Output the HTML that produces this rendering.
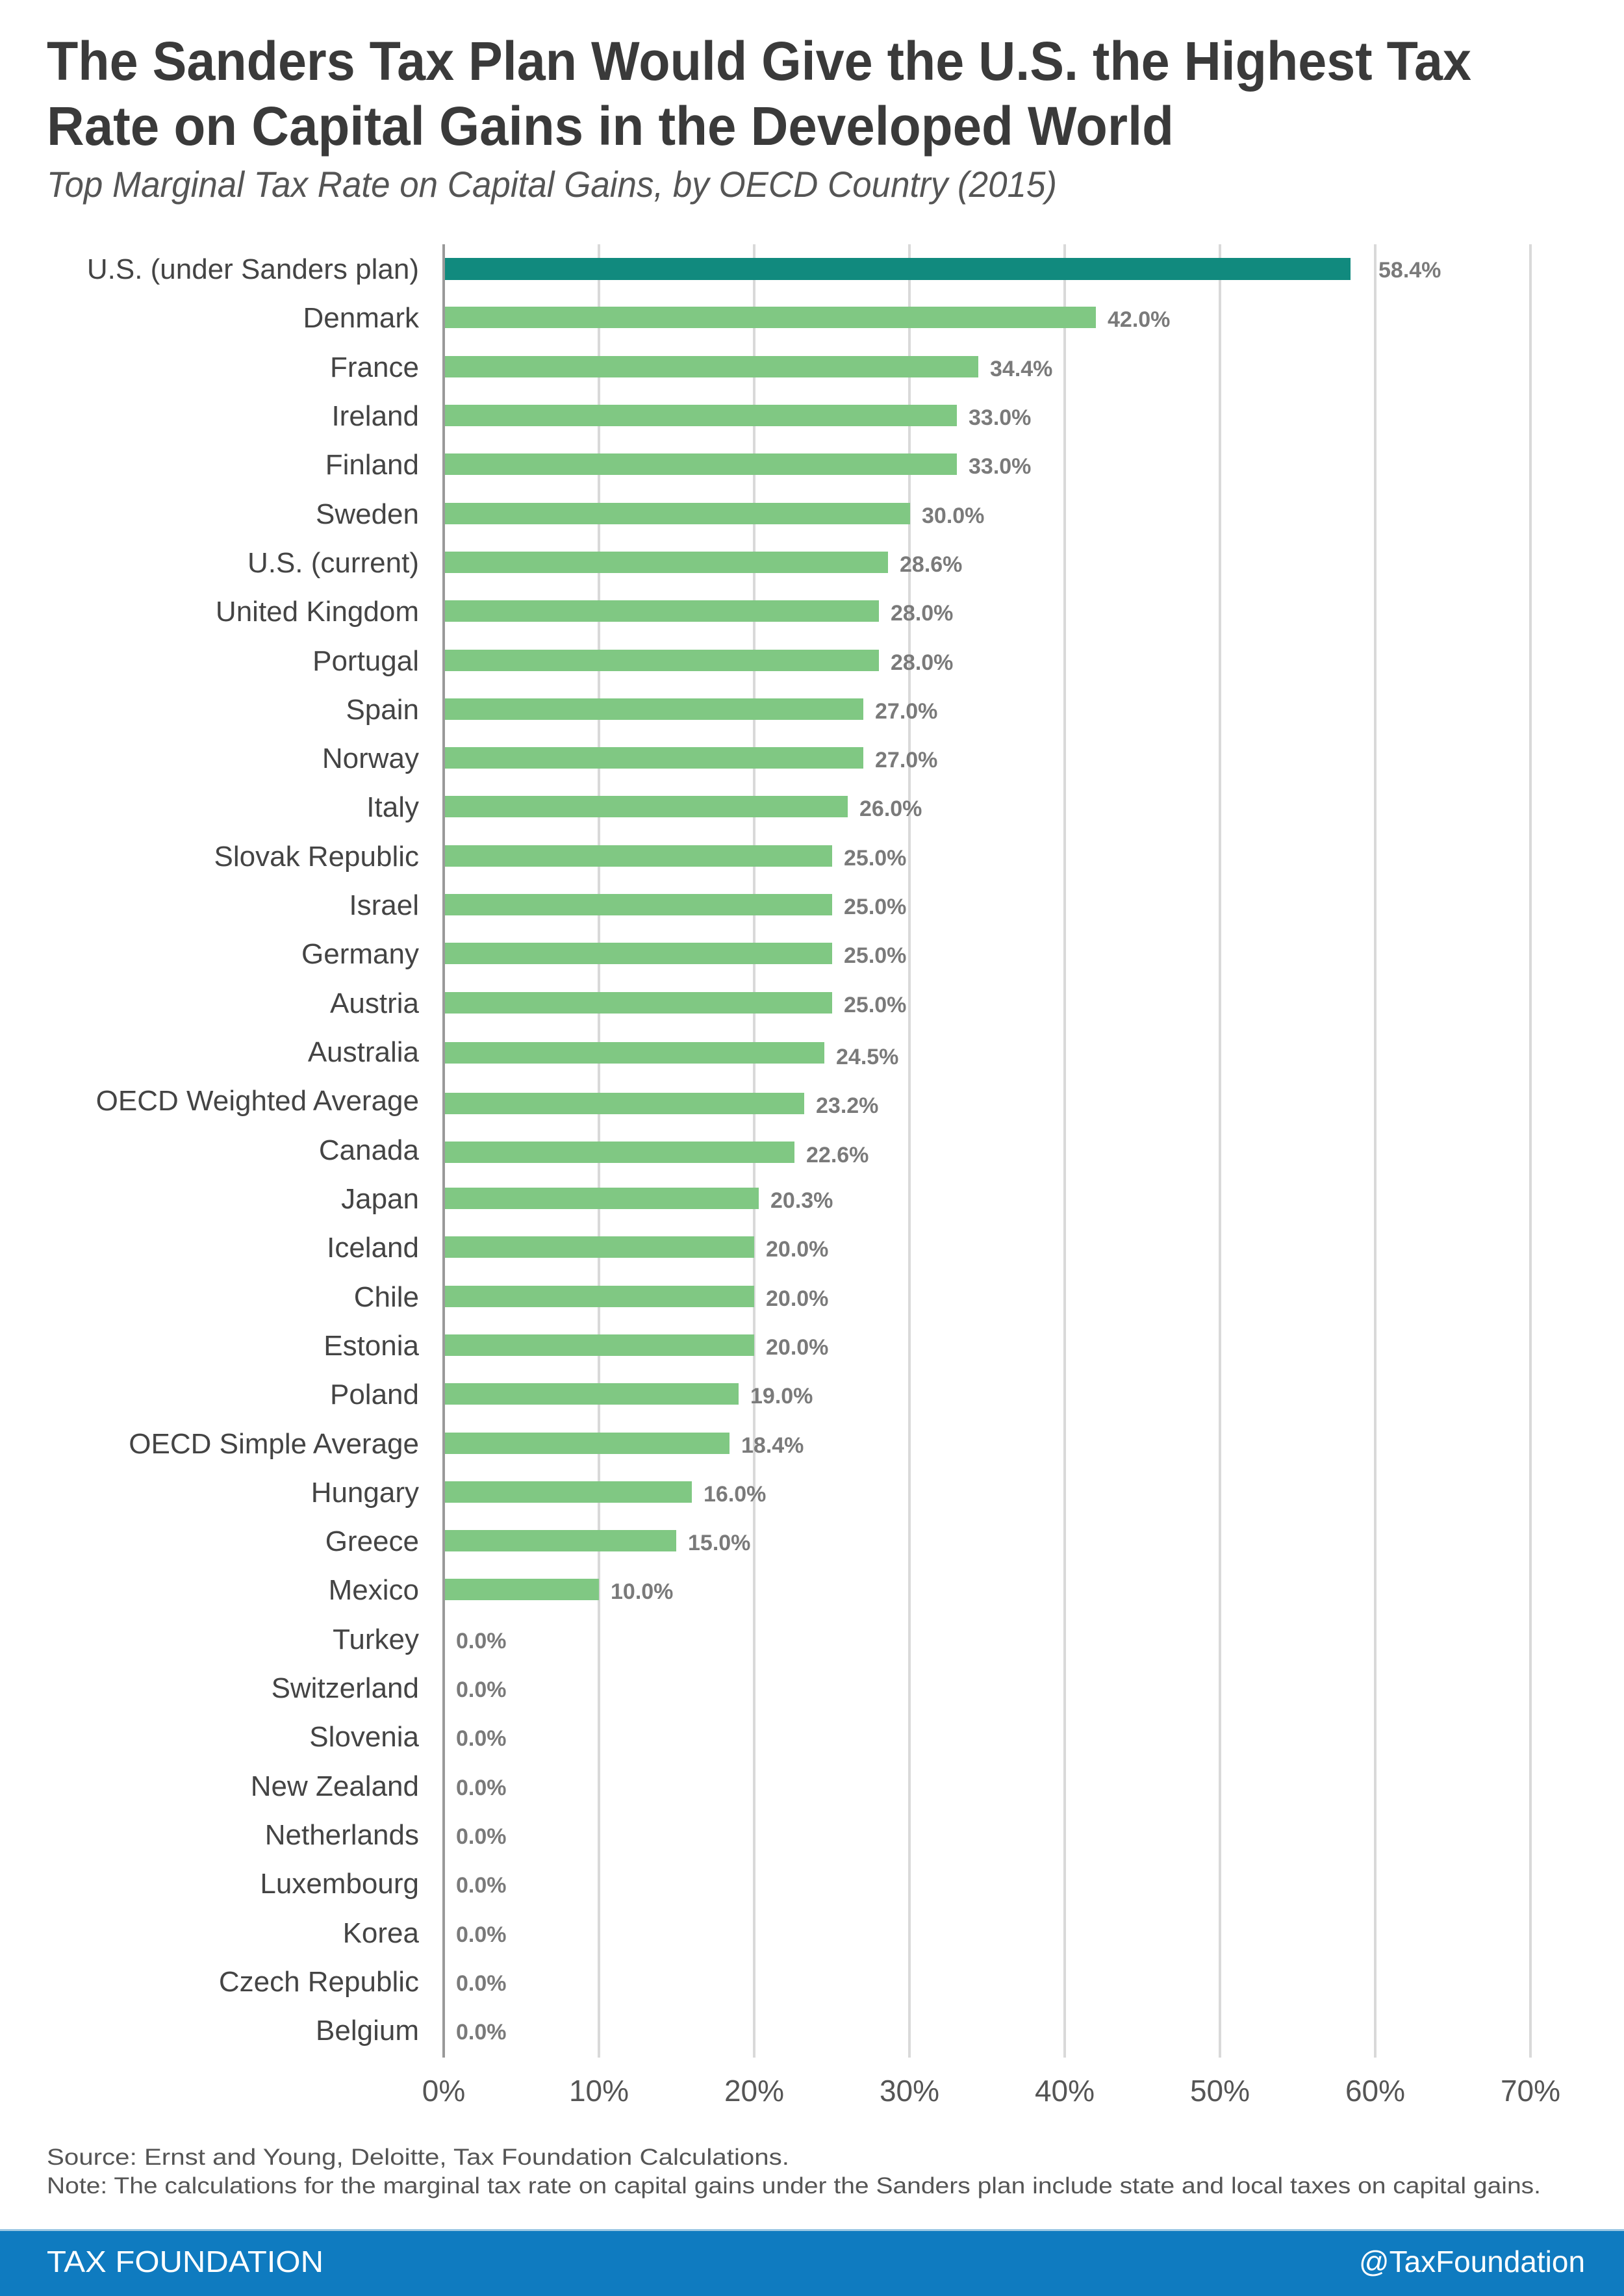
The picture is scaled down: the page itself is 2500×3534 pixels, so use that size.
<!DOCTYPE html>
<html><head><meta charset="utf-8"><style>
html,body{margin:0;padding:0;background:#fff;}
svg{display:block;}
text{font-family:"Liberation Sans",sans-serif;}
</style></head><body>
<svg width="2500" height="3534" viewBox="0 0 2500 3534" xmlns="http://www.w3.org/2000/svg">
<rect width="2500" height="3534" fill="#fff"/>
<text x="72" y="123" font-size="84" font-weight="bold" fill="#3a3a3a" textLength="2193" lengthAdjust="spacingAndGlyphs">The Sanders Tax Plan Would Give the U.S. the Highest Tax</text>
<text x="72" y="223" font-size="84" font-weight="bold" fill="#3a3a3a" textLength="1735" lengthAdjust="spacingAndGlyphs">Rate on Capital Gains in the Developed World</text>
<text x="72" y="303" font-size="56" font-style="italic" fill="#555" textLength="1555" lengthAdjust="spacingAndGlyphs">Top Marginal Tax Rate on Capital Gains, by OECD Country (2015)</text>
<g stroke="#d9d9d9" stroke-width="4">
<line x1="922" y1="376" x2="922" y2="3167"/><line x1="1161" y1="376" x2="1161" y2="3167"/>
<line x1="1400" y1="376" x2="1400" y2="3167"/><line x1="1639" y1="376" x2="1639" y2="3167"/>
<line x1="1878" y1="376" x2="1878" y2="3167"/><line x1="2117" y1="376" x2="2117" y2="3167"/>
<line x1="2356" y1="376" x2="2356" y2="3167"/>
</g>
<line x1="683" y1="376" x2="683" y2="3167" stroke="#999" stroke-width="4"/>
<g id="bars"></g>
<g font-size="46" fill="#555" text-anchor="middle">
<text x="683" y="3234">0%</text><text x="922" y="3234">10%</text><text x="1161" y="3234">20%</text><text x="1400" y="3234">30%</text><text x="1639" y="3234">40%</text><text x="1878" y="3234">50%</text><text x="2117" y="3234">60%</text><text x="2356" y="3234">70%</text>
</g>
<text x="72" y="3332" font-size="35" fill="#555" textLength="1143" lengthAdjust="spacingAndGlyphs">Source: Ernst and Young, Deloitte, Tax Foundation Calculations.</text>
<text x="72" y="3376" font-size="35" fill="#555" textLength="2300" lengthAdjust="spacingAndGlyphs">Note: The calculations for the marginal tax rate on capital gains under the Sanders plan include state and local taxes on capital gains.</text>
<rect x="0" y="3433" width="2500" height="101" fill="#0f7bc0"/>
<rect x="0" y="3431" width="2500" height="3" fill="#9cc7e3"/>
<text x="72" y="3497" font-size="46" fill="#fff" textLength="426" lengthAdjust="spacingAndGlyphs">TAX FOUNDATION</text>
<text x="2440" y="3497" font-size="46" fill="#fff" text-anchor="end" textLength="348" lengthAdjust="spacingAndGlyphs">@TaxFoundation</text>
<g font-size="44" fill="#444" text-anchor="end">
<text x="645" y="429">U.S. (under Sanders plan)</text>
<text x="645" y="504">Denmark</text><text x="645" y="580">France</text><text x="645" y="655">Ireland</text><text x="645" y="730">Finland</text><text x="645" y="806">Sweden</text><text x="645" y="881">U.S. (current)</text><text x="645" y="956">United Kingdom</text><text x="645" y="1032">Portugal</text><text x="645" y="1107">Spain</text><text x="645" y="1182">Norway</text><text x="645" y="1257">Italy</text><text x="645" y="1333">Slovak Republic</text><text x="645" y="1408">Israel</text><text x="645" y="1483">Germany</text><text x="645" y="1559">Austria</text><text x="645" y="1634">Australia</text><text x="645" y="1709">OECD Weighted Average</text><text x="645" y="1785">Canada</text><text x="645" y="1860">Japan</text><text x="645" y="1935">Iceland</text><text x="645" y="2011">Chile</text><text x="645" y="2086">Estonia</text><text x="645" y="2161">Poland</text><text x="645" y="2237">OECD Simple Average</text><text x="645" y="2312">Hungary</text><text x="645" y="2387">Greece</text><text x="645" y="2462">Mexico</text><text x="645" y="2538">Turkey</text><text x="645" y="2613">Switzerland</text><text x="645" y="2688">Slovenia</text><text x="645" y="2764">New Zealand</text><text x="645" y="2839">Netherlands</text><text x="645" y="2914">Luxembourg</text><text x="645" y="2990">Korea</text><text x="645" y="3065">Czech Republic</text><text x="645" y="3140">Belgium</text>
</g>
<g>
<rect x="685" y="397" width="1394" height="34" fill="#118a7e"/>
<g fill="#80c883">
<rect x="685" y="472" width="1002" height="33"/>
<rect x="685" y="548" width="821" height="33"/>
<rect x="685" y="623" width="788" height="33"/>
<rect x="685" y="698" width="788" height="33"/>
<rect x="685" y="774" width="716" height="33"/>
<rect x="685" y="849" width="682" height="33"/>
<rect x="685" y="924" width="668" height="33"/>
<rect x="685" y="1000" width="668" height="33"/>
<rect x="685" y="1075" width="644" height="33"/>
<rect x="685" y="1150" width="644" height="33"/>
<rect x="685" y="1225" width="620" height="33"/>
<rect x="685" y="1301" width="596" height="33"/>
<rect x="685" y="1376" width="596" height="33"/>
<rect x="685" y="1451" width="596" height="33"/>
<rect x="685" y="1527" width="596" height="33"/>
<rect x="685" y="1604" width="584" height="33"/>
<rect x="685" y="1682" width="553" height="33"/>
<rect x="685" y="1757" width="538" height="33"/>
<rect x="685" y="1828" width="483" height="33"/>
<rect x="685" y="1903" width="476" height="33"/>
<rect x="685" y="1979" width="476" height="33"/>
<rect x="685" y="2054" width="476" height="33"/>
<rect x="685" y="2129" width="452" height="33"/>
<rect x="685" y="2205" width="438" height="33"/>
<rect x="685" y="2280" width="380" height="33"/>
<rect x="685" y="2355" width="356" height="33"/>
<rect x="685" y="2430" width="237" height="33"/>
</g>
</g>
<g font-size="34" font-weight="bold" fill="#7a7a7a">
<text x="2122" y="427">58.4%</text>
<text x="1705" y="503">42.0%</text><text x="1524" y="579">34.4%</text><text x="1491" y="654">33.0%</text><text x="1491" y="729">33.0%</text><text x="1419" y="805">30.0%</text><text x="1385" y="880">28.6%</text><text x="1371" y="955">28.0%</text><text x="1371" y="1031">28.0%</text><text x="1347" y="1106">27.0%</text><text x="1347" y="1181">27.0%</text><text x="1323" y="1256">26.0%</text><text x="1299" y="1332">25.0%</text><text x="1299" y="1407">25.0%</text><text x="1299" y="1482">25.0%</text><text x="1299" y="1558">25.0%</text><text x="1287" y="1638">24.5%</text><text x="1256" y="1713">23.2%</text><text x="1241" y="1789">22.6%</text><text x="1186" y="1859">20.3%</text><text x="1179" y="1934">20.0%</text><text x="1179" y="2010">20.0%</text><text x="1179" y="2085">20.0%</text><text x="1155" y="2160">19.0%</text><text x="1141" y="2236">18.4%</text><text x="1083" y="2311">16.0%</text><text x="1059" y="2386">15.0%</text><text x="940" y="2461">10.0%</text>
<text x="702" y="2537">0.0%</text><text x="702" y="2612">0.0%</text><text x="702" y="2687">0.0%</text><text x="702" y="2763">0.0%</text><text x="702" y="2838">0.0%</text><text x="702" y="2913">0.0%</text><text x="702" y="2989">0.0%</text><text x="702" y="3064">0.0%</text><text x="702" y="3139">0.0%</text>
</g>
</svg>
</body></html>
